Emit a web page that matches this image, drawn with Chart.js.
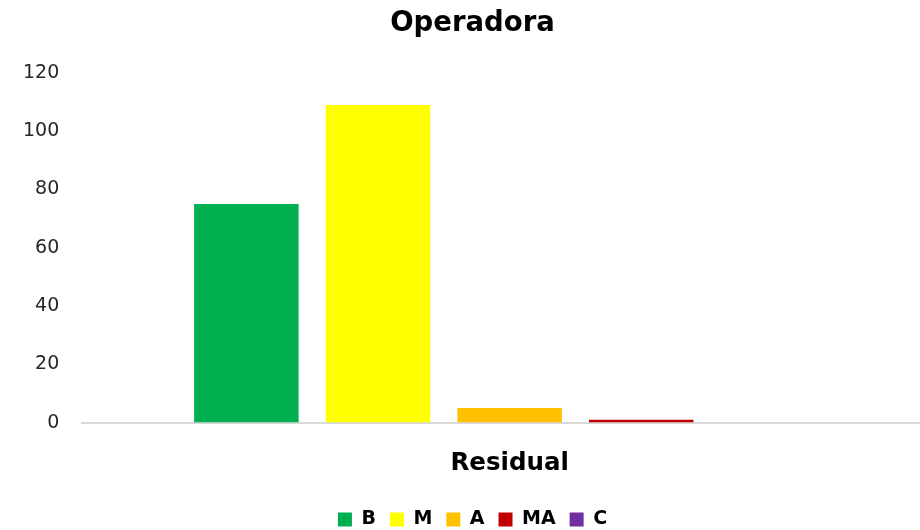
<!DOCTYPE html>
<html lang="es">
<head>
  <meta charset="UTF-8">
  <title>Operadora</title>
  <script src="https://cdn.jsdelivr.net/npm/chart.js"></script>
  <style>
    html, body {
      margin: 0;
      padding: 0;
      background: #fff;
      overflow: hidden;
    }
    #wrap {
      width: 940px;
      height: 539px;
    }
  </style>
</head>
<body>
  <div id="wrap">
    <canvas id="chart" width="940" height="539"></canvas>
  </div>

  <script>
    const categories = ['Residual'];
    const seriesNames = ['B', 'M', 'A', 'MA', 'C'];
    const seriesValues = [75, 109, 5, 1, 0];
    const seriesColors = ['#00b050', '#ffff00', '#ffc000', '#c00000', '#7030a0'];
    const yTicks = [0, 20, 40, 60, 80, 100, 120];

    const fontFamily = "'DejaVu Sans', sans-serif";

    const datasets = seriesNames.map((name, i) => ({
      label: name,
      data: [seriesValues[i]],
      backgroundColor: seriesColors[i],
      borderWidth: 0,
      barPercentage: 0.794,
      categoryPercentage: 0.77
    }));

    new Chart(document.getElementById('chart').getContext('2d'), {
      type: 'bar',
      data: {
        labels: categories,
        datasets: datasets
      },
      options: {
        responsive: false,
        animation: false,
        layout: {
          padding: { left: 8, right: 3, top: 5, bottom: 0 }
        },
        plugins: {
          title: {
            display: true,
            text: 'Operadora',
            color: '#000',
            font: { family: fontFamily, size: 27.5, weight: 'bold' },
            padding: { top: 2, bottom: 33 }
          },
          legend: {
            position: 'bottom',
            labels: {
              color: '#000',
              boxWidth: 14,
              boxHeight: 14,
              padding: 14,
              font: { family: fontFamily, size: 19, weight: 'bold' }
            }
          },
          tooltip: { enabled: false }
        },
        scales: {
          x: {
            grid: { display: false },
            border: { display: true, color: '#d9d9d9', width: 2 },
            ticks: {
              color: '#000',
              padding: 18,
              font: { family: fontFamily, size: 24.5, weight: 'bold' }
            }
          },
          y: {
            min: 0,
            max: 120,
            afterBuildTicks: (axis) => {
              axis.ticks = yTicks.map(v => ({ value: v }));
            },
            grid: { display: false },
            border: { display: false },
            ticks: {
              color: '#262626',
              padding: 15,
              font: { family: fontFamily, size: 19 }
            }
          }
        }
      }
    });
  </script>
</body>
</html>
